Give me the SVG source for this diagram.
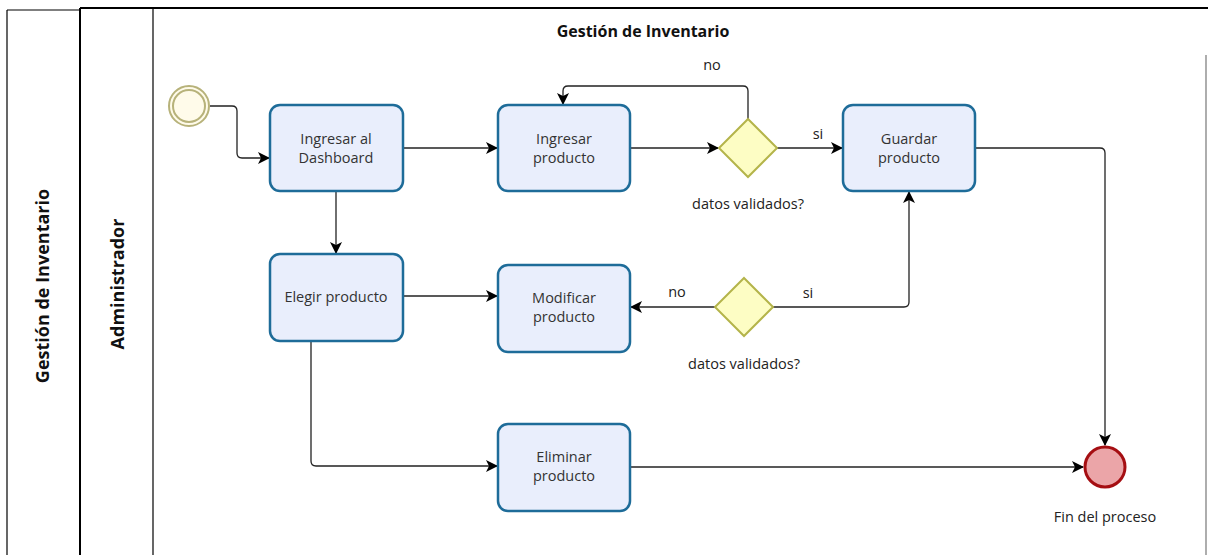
<svg xmlns="http://www.w3.org/2000/svg" width="1208" height="555" viewBox="0 0 1208 555">
<defs>
<marker id="arr" viewBox="0 0 12 12" refX="11" refY="6" markerWidth="12" markerHeight="12" markerUnits="userSpaceOnUse" orient="auto">
<path d="M0,0 L12,6 L0,12 L3,6 Z" fill="#000"/>
</marker>
<style>
.task{fill:#e9eefc;stroke:#1e6c99;stroke-width:2.5}
.gw{fill:#fdfdc4;stroke:#b4b44a;stroke-width:2}
.t{font-family:"Open Sans","Liberation Sans",sans-serif;font-size:14.5px;fill:#333;text-anchor:middle}
.lbl{font-family:"Open Sans","Liberation Sans",sans-serif;font-size:14.5px;fill:#222;text-anchor:middle}
.b{font-family:"Open Sans","Liberation Sans",sans-serif;font-weight:bold;fill:#111;text-anchor:middle}
.c{fill:none;stroke:#222;stroke-width:1.3;marker-end:url(#arr)}
</style>
</defs>
<rect width="1208" height="555" fill="#fff"/>
<g id="pool">
<line x1="7" y1="10" x2="80" y2="10" stroke="#000" stroke-width="1.2"/>
<line x1="7" y1="10" x2="7" y2="555" stroke="#000" stroke-width="1.2"/>
<line x1="80" y1="8" x2="1208" y2="8" stroke="#000" stroke-width="2"/>
<line x1="80" y1="8" x2="80" y2="555" stroke="#000" stroke-width="2"/>
<line x1="153" y1="8" x2="153" y2="555" stroke="#000" stroke-width="1.2"/>
<path d="M1206,55 L1206,555" stroke="#777" stroke-width="1.2" fill="none"/>
<text class="b" font-size="18" transform="translate(49,286) rotate(-90)">Gestión de Inventario</text>
<text class="b" font-size="18" transform="translate(124,284) rotate(-90)">Administrador</text>
<text class="b" font-size="16" x="643" y="37">Gestión de Inventario</text>
</g>
<g id="connectors">
<path class="c" d="M210,106 H232 Q237,106 237,111 V153 Q237,158 242,158 H269"/>
<path class="c" d="M403,148 H497"/>
<path class="c" d="M630,148 H718"/>
<path class="c" d="M748,119 V91 Q748,86 743,86 H568 Q563,86 563,91 V104"/>
<path class="c" d="M777,148 H842"/>
<path class="c" d="M975,148 H1100 Q1105,148 1105,153 V445"/>
<path class="c" d="M336,191 V253"/>
<path class="c" d="M403,296 H497"/>
<path class="c" d="M715,307 H631"/>
<path class="c" d="M773,307 H904 Q909,307 909,302 V192"/>
<path class="c" d="M311,341 V461 Q311,466 316,466 H497"/>
<path class="c" d="M630,467 H1083"/>
<text class="lbl" x="712" y="70">no</text>
<text class="lbl" x="818" y="139">si</text>
<text class="lbl" x="677" y="297">no</text>
<text class="lbl" x="808" y="298">si</text>
</g>
<g id="start">
<circle cx="189" cy="106" r="20" fill="#fffbea" stroke="#b7b27a" stroke-width="2"/>
<circle cx="189" cy="106" r="16" fill="none" stroke="#b7b27a" stroke-width="2"/>
</g>
<g id="dashboard">
<rect class="task" x="270" y="105" width="133" height="86" rx="10"/>
<text class="t" x="336" y="144">Ingresar al</text>
<text class="t" x="336" y="163">Dashboard</text>
</g>
<g id="ingresar">
<rect class="task" x="498" y="105" width="132" height="86" rx="10"/>
<text class="t" x="564" y="144">Ingresar</text>
<text class="t" x="564" y="163">producto</text>
</g>
<g id="gw1">
<path class="gw" d="M748,119 L777,148 L748,177 L719,148 Z"/>
<text class="lbl" x="748" y="209">datos validados?</text>
</g>
<g id="guardar">
<rect class="task" x="843" y="105" width="132" height="86" rx="10"/>
<text class="t" x="909" y="144">Guardar</text>
<text class="t" x="909" y="163">producto</text>
</g>
<g id="elegir">
<rect class="task" x="270" y="254" width="133" height="87" rx="10"/>
<text class="t" x="336" y="302">Elegir producto</text>
</g>
<g id="modificar">
<rect class="task" x="498" y="265" width="132" height="87" rx="10"/>
<text class="t" x="564" y="303">Modificar</text>
<text class="t" x="564" y="322">producto</text>
</g>
<g id="gw2">
<path class="gw" d="M744,278 L773,307 L744,336 L715,307 Z"/>
<text class="lbl" x="744" y="369">datos validados?</text>
</g>
<g id="eliminar">
<rect class="task" x="498" y="424" width="132" height="87" rx="10"/>
<text class="t" x="564" y="462">Eliminar</text>
<text class="t" x="564" y="481">producto</text>
</g>
<g id="end">
<circle cx="1105" cy="467" r="20" fill="#eba5a8" stroke="#a50e12" stroke-width="3"/>
<text class="lbl" x="1105" y="522">Fin del proceso</text>
</g>
</svg>
